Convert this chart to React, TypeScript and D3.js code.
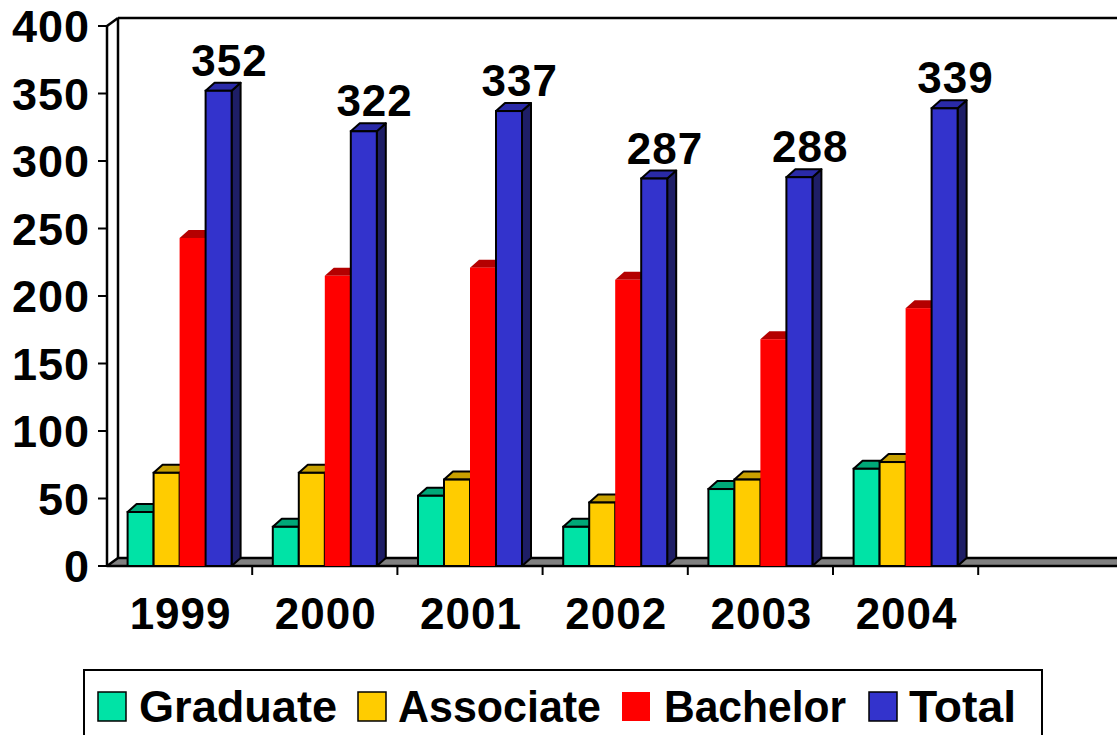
import React from "react";
import * as d3 from "d3";

const years = ["1999", "2000", "2001", "2002", "2003", "2004", ""];
const seriesNames = ["Graduate", "Associate", "Bachelor", "Total"];
const graduate = [40, 29, 52, 29, 57, 72];
const associate = [69, 69, 64, 47, 64, 77];
const bachelor = [243, 215, 221, 212, 168, 191];
const total = [352, 322, 337, 287, 288, 339];
const yTicks = [0, 50, 100, 150, 200, 250, 300, 350, 400];

const seriesValues = [graduate, associate, bachelor, total];
const frontColors = ["#00E3A6", "#FFCC00", "#FF0000", "#3333CC"];
const topColors = ["#00A878", "#C8A000", "#B40000", "#2A2AA8"];
const sideColors = ["#008A62", "#A88600", "#990000", "#1E1E66"];
const strokes = ["#000", "#000", "none", "#000"];

const W = 1117;
const H = 735;
const FONT = "'Liberation Sans', Arial, sans-serif";

export default function App() {
  const x0 = 107;
  const yBase = 566;
  const dxW = 11, dyW = -8; // wall depth
  const dxB = 9, dyB = -8; // bar depth
  const y = d3.scaleLinear().domain([0, 400]).range([yBase, 26]);
  const xBand = d3.scaleBand<string>().domain(years.map((d, i) => String(i))).range([x0, x0 + 7 * 145.2]).padding(0);
  const bw = xBand.bandwidth();
  const inner = d3.scaleBand<string>().domain(seriesNames).range([(bw - 104) / 2, (bw + 104) / 2]).padding(0);

  const bars: React.ReactNode[] = [];
  const labels: React.ReactNode[] = [];
  years.forEach((yr, i) => {
    if (i >= total.length) return;
    seriesNames.forEach((s, k) => {
      const v = seriesValues[k][i];
      const xl = (xBand(String(i)) as number) + (inner(s) as number);
      const w = inner.bandwidth();
      const xr = xl + w;
      const yt = y(v);
      const st = strokes[k];
      const sw = st === "none" ? 0 : 2;
      bars.push(
        <g key={`${i}-${k}`}>
          <polygon
            points={`${xr},${yt} ${xr + dxB},${yt + dyB} ${xr + dxB},${yBase + dyB} ${xr},${yBase}`}
            fill={sideColors[k]} stroke={st} strokeWidth={sw} strokeLinejoin="round"
          />
          <polygon
            points={`${xl},${yt} ${xl + dxB},${yt + dyB} ${xr + dxB},${yt + dyB} ${xr},${yt}`}
            fill={topColors[k]} stroke={st} strokeWidth={sw} strokeLinejoin="round"
          />
          <rect x={xl} y={yt} width={w} height={yBase - yt} fill={frontColors[k]} stroke={st} strokeWidth={sw} />
        </g>
      );
      if (s === "Total") {
        labels.push(
          <text key={`l${i}`} x={xl + w / 2 + dxB * 1.2} y={yt + dyB - 7} textAnchor="middle"
            fontFamily={FONT} fontWeight="bold" fontSize={44} letterSpacing={1}>
            {v}
          </text>
        );
      }
    });
  });

  const legendItems = [
    { name: "Graduate", sx: 98, tx: 139, tl: 198 },
    { name: "Associate", sx: 358, tx: 398, tl: 203 },
    { name: "Bachelor", sx: 622, tx: 664, tl: 182 },
    { name: "Total", sx: 869, tx: 909, tl: 107 },
  ];

  return (
    <svg width={W} height={H} style={{ position: "absolute", left: 0, top: 0, background: "#fff" }}>
      {/* back wall */}
      <line x1={x0 + dxW} y1={y(400) + dyW} x2={W + 10} y2={y(400) + dyW} stroke="#000" strokeWidth={2.5} />
      <line x1={x0 + dxW} y1={y(400) + dyW} x2={x0 + dxW} y2={yBase + dyW} stroke="#000" strokeWidth={2.5} />
      <line x1={x0} y1={y(400)} x2={x0 + dxW} y2={y(400) + dyW} stroke="#000" strokeWidth={2.5} />
      {/* floor */}
      <polygon points={`${x0},${yBase} ${x0 + dxW},${yBase + dyW} ${W + 10},${yBase + dyW} ${W + 10},${yBase}`}
        fill="#808080" stroke="#000" strokeWidth={2.5} strokeLinejoin="round" />
      {/* left axis */}
      <line x1={x0} y1={y(400)} x2={x0} y2={yBase} stroke="#000" strokeWidth={2.5} />
      {yTicks.map((t) => (
        <g key={t}>
          <line x1={98} x2={x0} y1={y(t)} y2={y(t)} stroke="#000" strokeWidth={2} />
          <text x={90} y={y(t) + 16} textAnchor="end" fontFamily={FONT} fontWeight="bold" fontSize={45} letterSpacing={1}>
            {t}
          </text>
        </g>
      ))}
      {/* x ticks and labels */}
      {years.map((yr, i) => {
        const xs = xBand(String(i)) as number;
        return (
          <g key={`x${i}`}>
            {i > 0 && <line x1={xs} x2={xs} y1={yBase} y2={yBase + 9} stroke="#000" strokeWidth={2} />}
            <text x={xs + bw / 2 + 1} y={629} textAnchor="middle" fontFamily={FONT} fontWeight="bold" fontSize={44} letterSpacing={1}>
              {yr}
            </text>
          </g>
        );
      })}
      {bars}
      {labels}
      {/* legend */}
      <rect x={84} y={670} width={958} height={80} fill="#fff" stroke="#000" strokeWidth={2} />
      {legendItems.map((it, k) => (
        <g key={it.name}>
          <rect x={it.sx} y={692} width={28} height={29} fill={frontColors[k]}
            stroke={strokes[k] === "none" ? "none" : "#000"} strokeWidth={1.5} />
          <text x={it.tx} y={722} fontFamily={FONT} fontWeight="bold" fontSize={44}
            textLength={it.tl} lengthAdjust="spacingAndGlyphs">
            {it.name}
          </text>
        </g>
      ))}
    </svg>
  );
}
